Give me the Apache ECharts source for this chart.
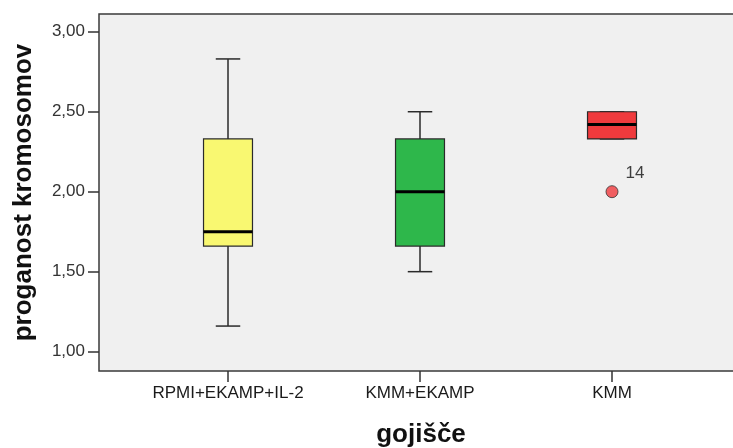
<!DOCTYPE html>
<html>
<head>
<meta charset="utf-8">
<script src="https://cdn.jsdelivr.net/npm/echarts@6/dist/echarts.min.js"></script>
<style>
html,body{margin:0;padding:0;background:#fff;}
#c{width:733px;height:448px;}
</style>
</head>
<body>
<div id="c"></div>
<script>
// categories and box statistics: [min, Q1, median, Q3, max]
const categories = ['RPMI+EKAMP+IL-2', 'KMM+EKAMP', 'KMM'];
const boxMin    = [1.16, 1.50, 2.33];
const boxQ1     = [1.66, 1.66, 2.33];
const boxMedian = [1.75, 2.00, 2.42];
const boxQ3     = [2.33, 2.33, 2.50];
const boxMax    = [2.83, 2.50, 2.50];
const boxColors = ['#f9f871', '#2eb74b', '#f03a3d'];
// outliers: [category index, value, case label]
const outlierCat = [2];
const outlierVal = [2.00];
const outlierLabel = ['14'];
const yTicks = [1.00, 1.50, 2.00, 2.50, 3.00];
const xTicks = [0, 1, 2];

const fmt = v => v.toFixed(2).replace('.', ',');

const chart = echarts.init(document.getElementById('c'));
const boxData = categories.map((c, i) => [i, boxMin[i], boxQ1[i], boxMedian[i], boxQ3[i], boxMax[i]]);

chart.setOption({
  animation: false,
  backgroundColor: '#ffffff',
  grid: {
    left: 99, right: -2, top: 14, bottom: 77,
    containLabel: false, outerBoundsMode: 'none',
    show: true, backgroundColor: '#f0f0f0',
    borderColor: '#3a3a3a', borderWidth: 1.5
  },
  xAxis: {
    type: 'value', min: -0.6719, max: 2.6406,
    position: 'bottom',
    splitLine: {show: false},
    axisLine: {show: false, onZero: false},
    axisTick: {show: true, customValues: xTicks, length: 11, lineStyle: {color: '#333', width: 1.5}},
    axisLabel: {
      customValues: xTicks, margin: 14,
      formatter: v => categories[Math.round(v)],
      color: '#1a1a1a', fontFamily: 'Liberation Sans', fontSize: 17
    },
    name: 'gojišče', nameLocation: 'middle', nameGap: 51,
    nameTextStyle: {fontFamily: 'Liberation Sans', fontWeight: 'bold', fontSize: 26, color: '#111', padding: [0, 0, 0, 8]}
  },
  yAxis: {
    type: 'value', min: 0.879, max: 3.111,
    position: 'left',
    splitLine: {show: false},
    axisLine: {show: false, onZero: false},
    axisTick: {show: true, customValues: yTicks, length: 11, lineStyle: {color: '#333', width: 1.5}},
    axisLabel: {
      customValues: yTicks, margin: 14, formatter: fmt,
      color: '#333', fontFamily: 'Liberation Sans', fontSize: 17
    },
    name: 'proganost kromosomov', nameLocation: 'middle', nameGap: 62,
    nameTextStyle: {fontFamily: 'Liberation Sans', fontWeight: 'bold', fontSize: 26, color: '#111'}
  },
  series: [
    {
      type: 'custom',
      data: boxData,
      renderItem: function (params, api) {
        const i = api.value(0);
        const idx = params.dataIndex;
        const pMin = api.coord([i, api.value(1)]);
        const pQ1 = api.coord([i, api.value(2)]);
        const pMed = api.coord([i, api.value(3)]);
        const pQ3 = api.coord([i, api.value(4)]);
        const pMax = api.coord([i, api.value(5)]);
        const bw = api.size([0.255, 0])[0];
        const cw = bw / 2;
        const x = pQ1[0];
        const lineStyle = {stroke: '#2a2a2a', lineWidth: 1.5};
        return {
          type: 'group',
          children: [
            {type: 'line', shape: {x1: x, y1: pMax[1], x2: x, y2: pQ3[1]}, style: lineStyle},
            {type: 'line', shape: {x1: x, y1: pQ1[1], x2: x, y2: pMin[1]}, style: lineStyle},
            {type: 'line', shape: {x1: x - cw / 2, y1: pMax[1], x2: x + cw / 2, y2: pMax[1]}, style: lineStyle},
            {type: 'line', shape: {x1: x - cw / 2, y1: pMin[1], x2: x + cw / 2, y2: pMin[1]}, style: lineStyle},
            {type: 'rect', shape: {x: x - bw / 2, y: pQ3[1], width: bw, height: pQ1[1] - pQ3[1]},
              style: {fill: boxColors[idx], stroke: '#2a2a2a', lineWidth: 1.2}},
            {type: 'line', shape: {x1: x - bw / 2, y1: pMed[1], x2: x + bw / 2, y2: pMed[1]},
              style: {stroke: '#000', lineWidth: 3}}
          ]
        };
      }
    },
    {
      type: 'scatter',
      data: outlierCat.map((c, k) => [c, outlierVal[k], outlierLabel[k]]),
      symbol: 'circle', symbolSize: 12,
      itemStyle: {color: '#f03a3d', borderColor: '#333', borderWidth: 1},
      label: {
        show: true, formatter: p => p.value[2], position: 'right',
        offset: [2, -18], color: '#111', fontFamily: 'Liberation Sans', fontSize: 17
      }
    }
  ]
});
</script>
</body>
</html>
